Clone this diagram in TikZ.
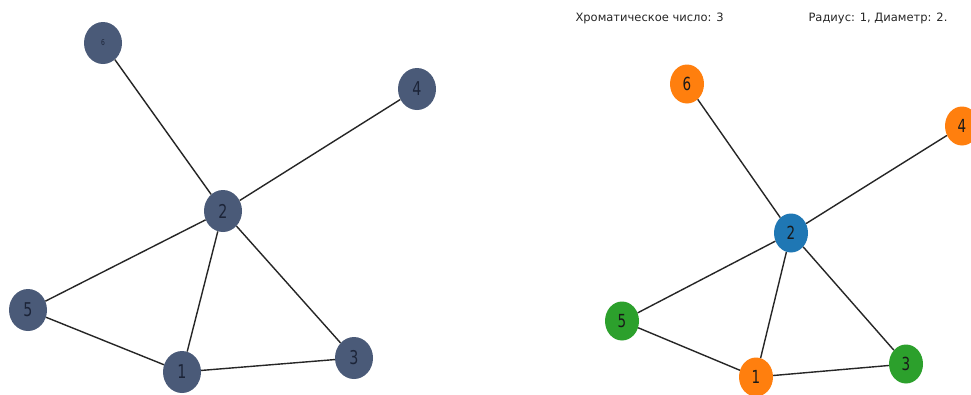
\documentclass[tikz,border=0pt]{standalone}
\usepackage{fontspec}
\usepackage{graphicx}
\setmainfont{DejaVu Sans}
\definecolor{slate}{HTML}{4A5A78}
\definecolor{slatetxt}{HTML}{1C2438}
\definecolor{tabblue}{HTML}{1F77B4}
\definecolor{taborange}{HTML}{FF7F0E}
\definecolor{tabgreen}{HTML}{2CA02C}
\newcommand{\narrowlbl}[1]{\scalebox{0.75}[1]{#1}}
\tikzset{
  lnode/.style={ellipse, fill=slate, minimum width=38pt, minimum height=42pt, inner sep=0pt, text=slatetxt, font=\fontsize{19}{19}\selectfont},
  rnode/.style={ellipse, minimum width=34pt, minimum height=39pt, inner sep=0pt, text=black!90, font=\fontsize{18}{18}\selectfont},
  edge/.style={draw=black!85, line width=1.4pt},
  caption/.style={anchor=west, font=\fontsize{11.5}{11.5}\selectfont, text=black!85}
}
\usetikzlibrary{shapes.geometric}
\begin{document}
\begin{tikzpicture}[x=1pt,y=-1pt]
\useasboundingbox (0,0) rectangle (971,394);
\fill[white] (0,0) rectangle (971,394);
% left graph
\node[lnode] (L6) at (103,43) {\fontsize{8}{8}\selectfont\narrowlbl{6}};
\node[lnode] (L4) at (417,89) {\narrowlbl{4}};
\node[lnode] (L2) at (223,211) {\narrowlbl{2}};
\node[lnode] (L5) at (28,310) {\narrowlbl{5}};
\node[lnode] (L1) at (182,372) {\narrowlbl{1}};
\node[lnode] (L3) at (354,358) {\narrowlbl{3}};
% right graph
\node[rnode, fill=taborange] (R6) at (687,84) {\narrowlbl{6}};
\node[rnode, fill=taborange] (R4) at (962,126) {\narrowlbl{4}};
\node[rnode, fill=tabblue] (R2) at (791,233) {\narrowlbl{2}};
\node[rnode, fill=tabgreen] (R5) at (622,321) {\narrowlbl{5}};
\node[rnode, fill=taborange] (R1) at (756,377) {\narrowlbl{1}};
\node[rnode, fill=tabgreen] (R3) at (906,364) {\narrowlbl{3}};
% edges
\foreach \a/\b in {6/2,4/2,2/5,2/1,2/3,5/1,1/3}{
  \draw[edge] (L\a) -- (L\b);
  \draw[edge] (R\a) -- (R\b);
}
% captions
\node[caption] (cap1) at (572,18) {Хроматическое число: 3};
\node[caption] (cap2) at (805,18) {Радиус: 1, Диаметр: 2.};
\end{tikzpicture}
\end{document}
